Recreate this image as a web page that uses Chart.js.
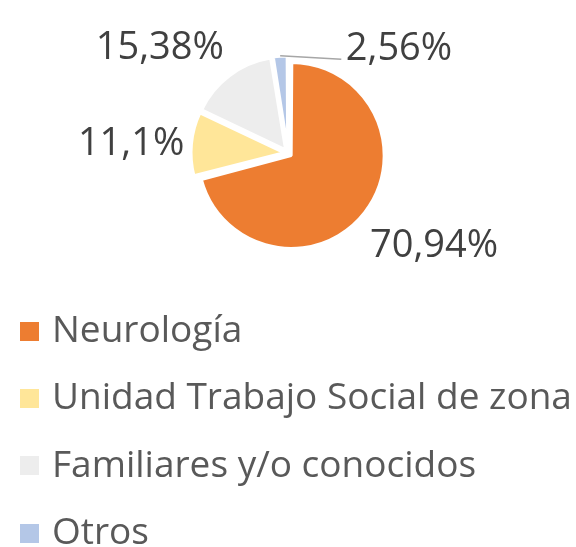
<!DOCTYPE html>
<html><head><meta charset="utf-8">
<script src="https://cdn.jsdelivr.net/npm/chart.js@4"></script>
<style>
html,body{margin:0;padding:0;background:#fff;}
#wrap{position:relative;width:576px;height:547px;overflow:hidden;}
#c{position:absolute;left:0;top:0;}
.leg{position:absolute;left:52px;font-family:'Open Sans',sans-serif;font-size:37px;color:#595959;line-height:37px;white-space:nowrap;}
.sw{position:absolute;left:20px;width:19px;height:19px;}
</style></head><body>
<div id="wrap"><canvas id="c" width="576" height="547"></canvas><div id="legend"></div></div>
<script>
const categories = ['Neurología', 'Unidad Trabajo Social de zona', 'Familiares y/o conocidos', 'Otros'];
const values = [70.94, 11.1, 15.38, 2.56];
const colors = ['#ED7D31', '#FFE699', '#EDEDED', '#B4C7E7'];

const OFFSET = 16;      // Chart.js shifts arcs by offset/4 px
const BASE_R = 93;
const BORDER = 3;
const FONT = "38px 'Open Sans', sans-serif";

function fmt(v){ return String(v).replace('.', ',') + '%'; }

const radiusFix = {
  id: 'radiusFix',
  beforeDatasetsDraw(chart){
    const t = OFFSET / 4;
    chart.getDatasetMeta(0).data.forEach(arc => {
      const circ = arc.endAngle - arc.startAngle;
      arc.outerRadius = BASE_R - t * (1 - Math.sin(Math.min(Math.PI, circ)));
    });
  }
};

const labelPlugin = {
  id: 'pieLabels',
  afterDatasetsDraw(chart, args, opts){
    const ctx = chart.ctx;
    const t = OFFSET / 4;
    const R = BASE_R - BORDER / 2 + t;
    ctx.save();
    ctx.font = FONT;
    ctx.fillStyle = '#404040';
    ctx.textBaseline = 'alphabetic';
    chart.getDatasetMeta(0).data.forEach((arc, i) => {
      const mid = (arc.startAngle + arc.endAngle) / 2;
      const cx = arc.x, cy = arc.y;
      const ox = cx + Math.cos(mid) * R, oy = cy + Math.sin(mid) * R;
      const n = opts.nudges[i];
      const tx = ox + n[0], ty = oy + n[1];
      ctx.textAlign = Math.cos(mid) >= 0 || opts.leaders[i] ? 'left' : 'right';
      ctx.fillText(fmt(chart.data.datasets[0].data[i]), tx, ty);
      if (opts.leaders[i]) {
        ctx.beginPath();
        ctx.strokeStyle = '#A6A6A6';
        ctx.lineWidth = 1.5;
        ctx.moveTo(cx + Math.cos(mid) * (R + 2), cy + Math.sin(mid) * (R + 2));
        ctx.lineTo(tx - 4.5, ty - 0.7);
        ctx.stroke();
      }
    });
    ctx.restore();
  }
};

new Chart(document.getElementById('c'), {
  type: 'pie',
  data: {
    labels: categories,
    datasets: [{
      data: values,
      backgroundColor: colors,
      borderColor: '#FFFFFF',
      borderWidth: BORDER,
      offset: OFFSET,
      hoverOffset: OFFSET,
      radius: BASE_R
    }]
  },
  options: {
    responsive: false,
    animation: false,
    layout: { padding: { left: 0, right: 0, top: 0, bottom: 241 } },
    plugins: {
      legend: { display: false },
      tooltip: { enabled: false },
      pieLabels: {
        nudges: [[6.5, 45.3], [-8.6, 10.8], [-6.8, -17.2], [65.5, 2.2]],
        leaders: [false, false, false, true]
      }
    }
  },
  plugins: [radiusFix, labelPlugin]
});

// legend (HTML, built from the same arrays)
const legend = document.getElementById('legend');
const baselines0 = 342, rowStep = 67.4;
categories.forEach((name, i) => {
  const base = baselines0 + i * rowStep;
  const sw = document.createElement('div');
  sw.className = 'sw';
  sw.style.background = colors[i];
  sw.style.top = (base - 1.5 - 19) + 'px';
  legend.appendChild(sw);
  const tx = document.createElement('div');
  tx.className = 'leg';
  tx.textContent = name;
  tx.style.top = (base - 33) + 'px';
  legend.appendChild(tx);
});
</script>
</body></html>
